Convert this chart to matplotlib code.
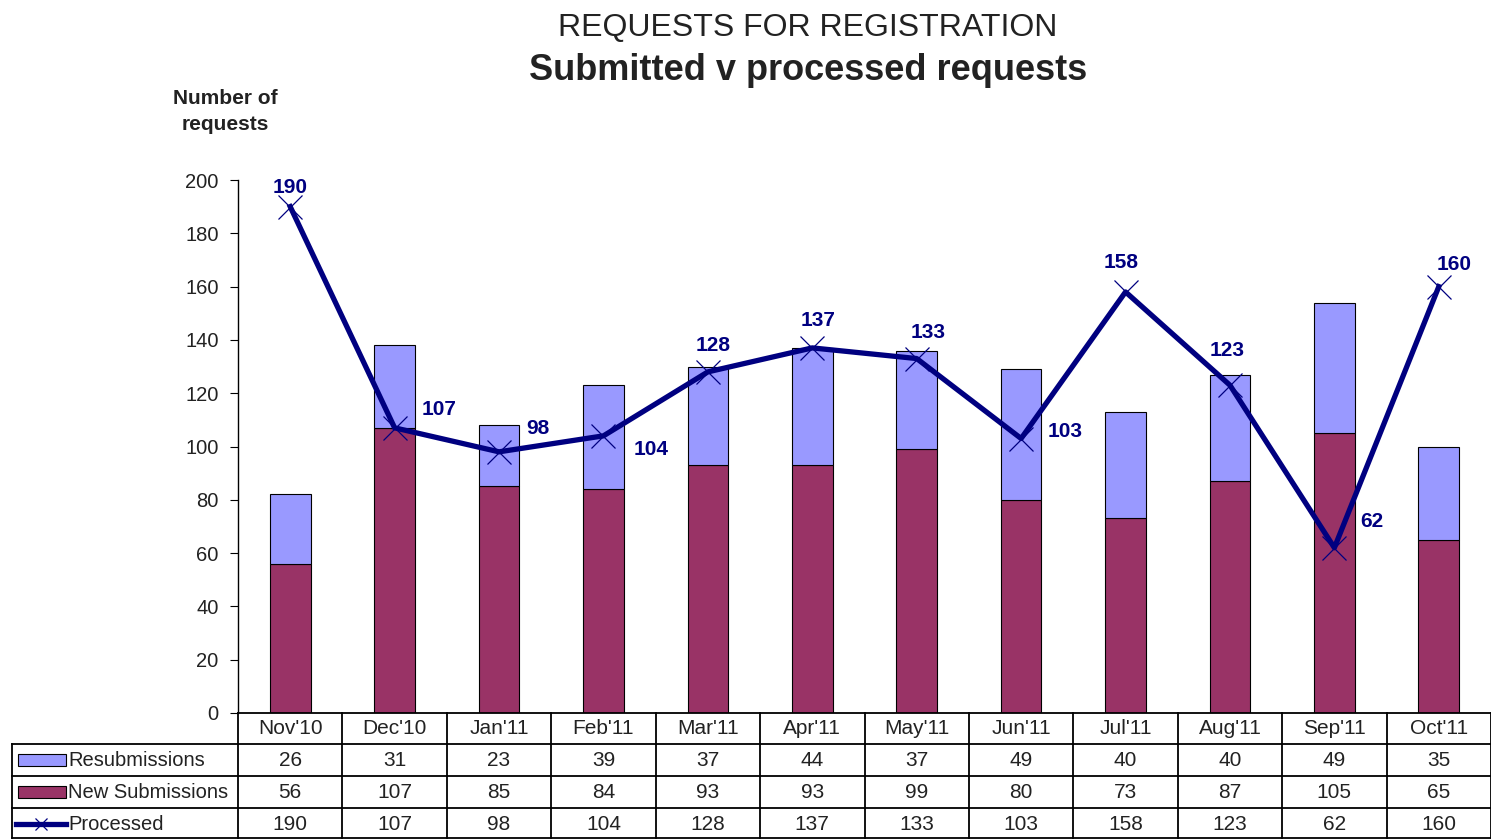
import matplotlib.pyplot as plt
import matplotlib.transforms as mtransforms
from matplotlib.lines import Line2D
from matplotlib.patches import Rectangle
import numpy as np

plt.rcParams['font.family'] = ['Liberation Sans', 'DejaVu Sans']

months = ["Nov'10", "Dec'10", "Jan'11", "Feb'11", "Mar'11", "Apr'11",
          "May'11", "Jun'11", "Jul'11", "Aug'11", "Sep'11", "Oct'11"]
resubmissions = [26, 31, 23, 39, 37, 44, 37, 49, 40, 40, 49, 35]
new_submissions = [56, 107, 85, 84, 93, 93, 99, 80, 73, 87, 105, 65]
processed = [190, 107, 98, 104, 128, 137, 133, 103, 158, 123, 62, 160]

# label offsets (points) for the processed values
label_offsets = [(0, 14), (32, 13), (28, 17), (34, -10), (4, 19), (4, 20),
                 (8, 19), (32, 5), (-3, 21), (-2, 25), (27, 19), (11, 16)]

maroon = '#993366'
lavender = '#9999FF'
navy = '#000080'
txt = '#222222'

W, H = 1491, 839
fig = plt.figure(figsize=(W / 100, H / 100), dpi=100)
ax_l, ax_r, ax_t, ax_b = 238, 1491, 180, 713
ax = fig.add_axes([ax_l / W, 1 - ax_b / H, (ax_r - ax_l) / W, (ax_b - ax_t) / H])

x = np.arange(len(months))
ax.bar(x, new_submissions, width=0.39, color=maroon, edgecolor='black', linewidth=0.8, zorder=2)
ax.bar(x, resubmissions, width=0.39, bottom=new_submissions, color=lavender,
       edgecolor='black', linewidth=0.8, zorder=2)
ax.plot(x, processed, color=navy, linewidth=3.8, zorder=3)
ax.plot(x, processed, linestyle='none', marker='x', markersize=17, markeredgewidth=0.9,
        color=navy, zorder=4)
for xi, v, off in zip(x, processed, label_offsets):
    ax.annotate(str(v), (xi, v), xytext=off, textcoords='offset points',
                ha='center', va='center', fontsize=15, fontweight='bold', color=navy, zorder=5)

ax.set_xlim(-0.5, len(months) - 0.5)
ax.set_ylim(0, 200)
ax.set_yticks(range(0, 201, 20))
ax.tick_params(axis='y', direction='out', length=6, labelsize=14.5, pad=8, labelcolor=txt)
ax.set_xticks([])
for s in ['top', 'right', 'bottom']:
    ax.spines[s].set_visible(False)
ax.spines['left'].set_linewidth(1)

# title and axis label
fig.text(808 / W, 1 - 28 / H, 'REQUESTS FOR REGISTRATION', ha='center', va='center',
         fontsize=23, color=txt)
fig.text(808 / W, 1 - 70 / H, 'Submitted v processed requests', ha='center', va='center',
         fontsize=26, fontweight='bold', color=txt)
fig.text(225 / W, 1 - 98 / H, 'Number of', ha='center', va='center', fontsize=15,
         fontweight='bold', color=txt)
fig.text(225 / W, 1 - 125 / H, 'requests', ha='center', va='center', fontsize=15,
         fontweight='bold', color=txt)

# data table drawn below the axes
def ay(py):
    return (ax_b - py) / (ax_b - ax_t)

def axx(px):
    return (px - ax_l) / (ax_r - ax_l)

row_lines = [713, 744, 776, 808, 838]
for i, py in enumerate(row_lines):
    x0 = axx(238) if i == 0 else axx(12)
    ax.add_line(Line2D([x0, 1], [ay(py), ay(py)], transform=ax.transAxes,
                       color='black', linewidth=1.3, clip_on=False))
ax.add_line(Line2D([axx(12), axx(12)], [ay(744), ay(838)], transform=ax.transAxes,
                   color='black', linewidth=1.3, clip_on=False))
blend = mtransforms.blended_transform_factory(ax.transData, ax.transAxes)
for b in np.arange(-0.5, len(months) + 0.5, 1.0):
    ax.add_line(Line2D([b, b], [ay(713), ay(838)], transform=blend,
                       color='black', linewidth=1.3, clip_on=False))

rows = [(729, months), (761, resubmissions), (793, new_submissions), (825, processed)]
for py, vals in rows:
    for xi, v in zip(x, vals):
        ax.text(xi, ay(py), str(v), transform=blend, ha='center', va='center',
                fontsize=15, color=txt, clip_on=False)

# legend keys in the table
names = ['Resubmissions', 'New Submissions', 'Processed']
for py, name in zip([760, 792, 824], names):
    ax.text(axx(68), ay(py), name, transform=ax.transAxes, ha='left', va='center',
            fontsize=14.5, color=txt, clip_on=False)
for py, col in zip([760, 792], [lavender, maroon]):
    ax.add_patch(Rectangle((axx(18), ay(py + 6)), axx(66) - axx(18), ay(py - 6) - ay(py + 6),
                           transform=ax.transAxes, facecolor=col, edgecolor='black',
                           linewidth=0.8, clip_on=False))
ax.add_line(Line2D([axx(16), axx(66)], [ay(824), ay(824)], transform=ax.transAxes,
                   color=navy, linewidth=3.8, clip_on=False))
ax.add_line(Line2D([axx(41)], [ay(824)], transform=ax.transAxes, marker='x', markersize=9,
                   markeredgewidth=0.9, color=navy, linestyle='none', clip_on=False))

fig.savefig('out.png', dpi=100)
